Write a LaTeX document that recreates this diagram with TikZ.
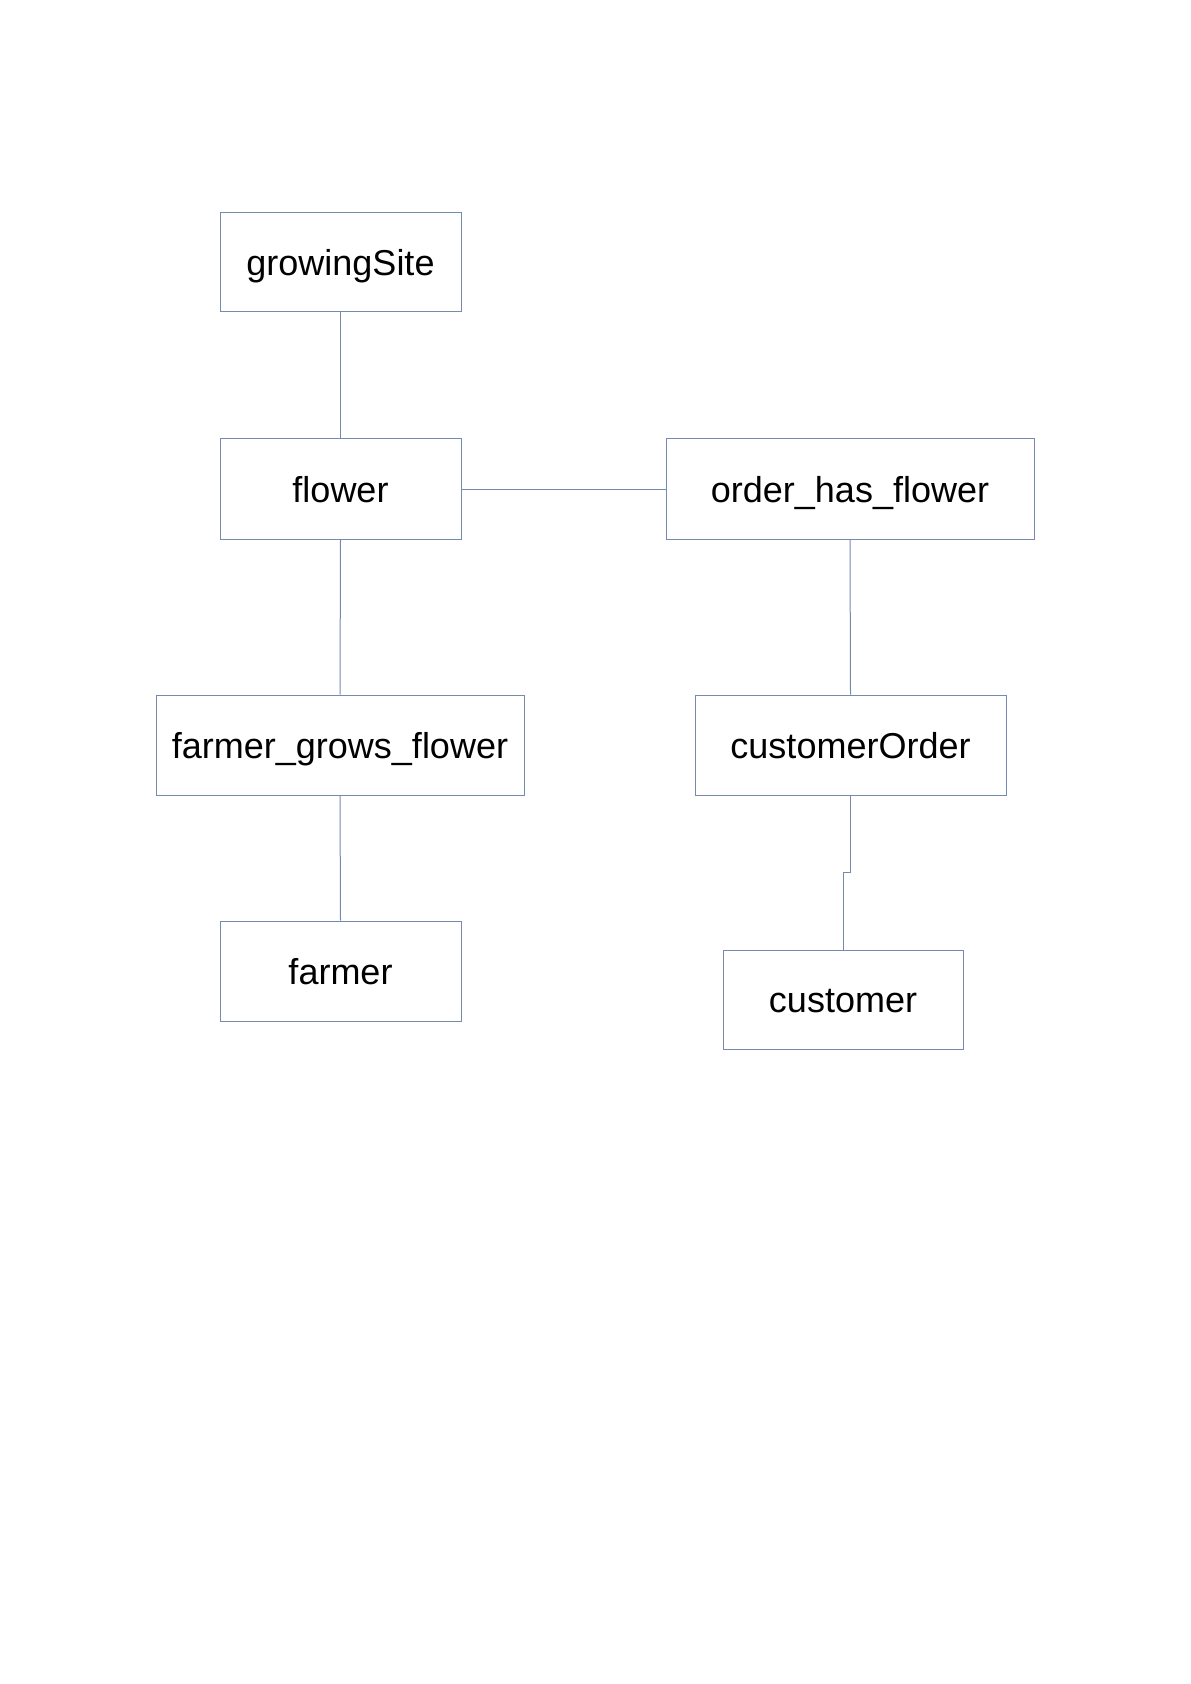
\documentclass[tikz,border=0pt]{standalone}
\usepackage{fontspec}
\setmainfont{Liberation Sans}
\definecolor{boxline}{RGB}{118,138,176}
\begin{document}
\begin{tikzpicture}[
    x=0.5pt, y=-0.5pt,
    tbl/.style={draw=boxline, line width=0.5pt, minimum height=50pt,
      font=\fontsize{18}{21}\selectfont, inner sep=0pt,
      text height=13pt, text depth=0pt},
    link/.style={draw=boxline, line width=0.5pt},
  ]
    % page
    \useasboundingbox (0,0) rectangle (1190,1684);

    % left column
    \node[tbl, minimum width=120.5pt, minimum height=49.5pt] (site) at (340.5,262.5) {growingSite};
    \node[tbl, minimum width=120.5pt] (flower) at (340.5,489) {flower};
    \node[tbl, minimum width=184pt] (fgf) at (340,745) {farmer\_grows\_flower};
    \node[tbl, minimum width=120.5pt] (farmer) at (340.5,971) {farmer};

    % right column
    \node[tbl, minimum width=184pt] (ohf) at (850,489) {order\_has\_flower};
    \node[tbl, minimum width=155.5pt] (corder) at (850.5,745) {customerOrder};
    \node[tbl, minimum width=120pt, minimum height=49.5pt] (cust) at (843,999.5) {customer};

    % connectors
    \draw[link] (site.south) -- (flower.north);
    \draw[link] (flower.south) -- (fgf.north);
    \draw[link] (fgf.south) -- (farmer.north);
    \draw[link] (flower.east) -- (ohf.west);
    \draw[link] (ohf.south) -- (corder.north);
    \draw[link] (corder.south) -- ++(0,77) -| (cust.north);
\end{tikzpicture}
\end{document}
